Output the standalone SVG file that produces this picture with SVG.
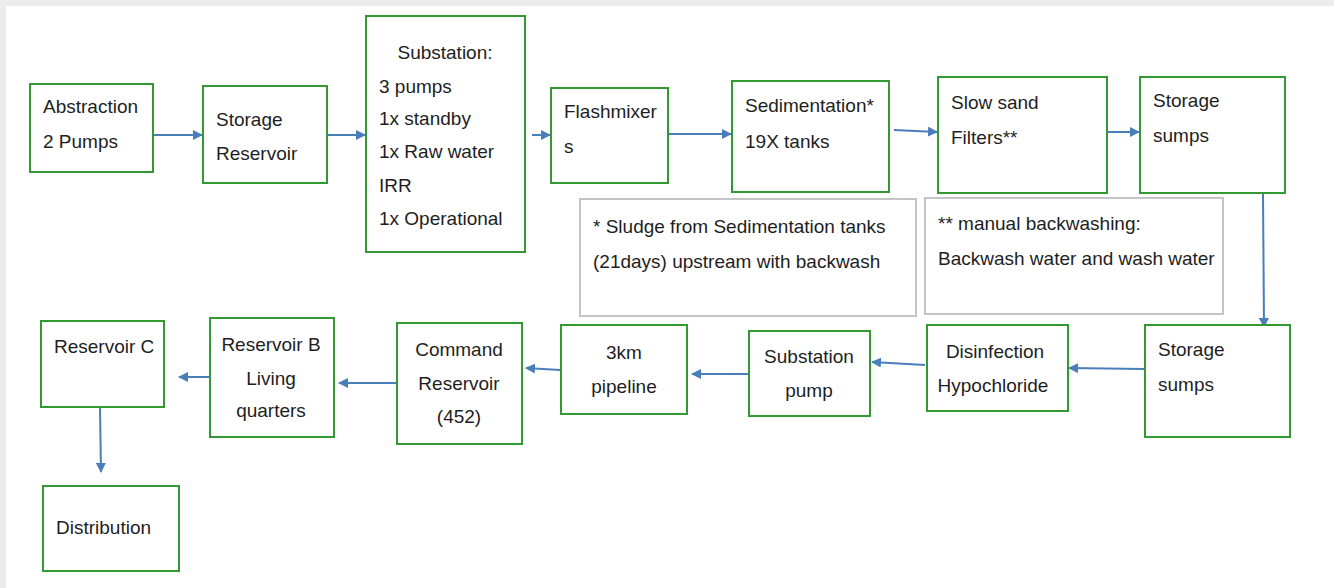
<svg xmlns="http://www.w3.org/2000/svg" width="1334" height="588" viewBox="0 0 1334 588">
  <defs>
    <style>
      .box { fill: #ffffff; stroke: #339933; stroke-width: 2; }
      .note { fill: #ffffff; stroke: #c4c4c4; stroke-width: 2; }
      .t { font-family: "Liberation Sans", Arial, sans-serif; font-size: 19px; fill: #1e1e1e; }
      .c { text-anchor: middle; }
      .flow { fill: none; stroke: #4a7ebb; stroke-width: 2; marker-end: url(#head); }
    </style>
    <marker id="head" viewBox="0 0 10 10" refX="9" refY="5" markerWidth="5" markerHeight="5" orient="auto" markerUnits="strokeWidth">
      <path d="M0,0 L10,5 L0,10 z" fill="#4a7ebb"/>
    </marker>
  </defs>

  <!-- page -->
  <rect x="0" y="0" width="1334" height="588" fill="#ececec"/>
  <rect x="6" y="6" width="1328" height="582" fill="#ffffff"/>

  <!-- connectors -->
  <g id="connectors">
    <line class="flow" x1="154" y1="135" x2="202" y2="135"/>
    <line class="flow" x1="328" y1="135" x2="365" y2="135"/>
    <line class="flow" x1="532" y1="135" x2="550" y2="135"/>
    <line class="flow" x1="669" y1="134" x2="731" y2="134"/>
    <line class="flow" x1="894" y1="130" x2="937" y2="132"/>
    <line class="flow" x1="1108" y1="132" x2="1139" y2="132"/>
    <line class="flow" x1="1263" y1="194" x2="1264" y2="327"/>
    <line class="flow" x1="1144" y1="369" x2="1069" y2="368"/>
    <line class="flow" x1="925" y1="365" x2="872" y2="362"/>
    <line class="flow" x1="748" y1="374" x2="692" y2="374"/>
    <line class="flow" x1="560" y1="370" x2="526" y2="368"/>
    <line class="flow" x1="396" y1="383" x2="339" y2="383"/>
    <line class="flow" x1="209" y1="377" x2="179" y2="377"/>
    <line class="flow" x1="100" y1="408" x2="101" y2="472"/>
  </g>

  <g id="abstraction">
    <rect class="box" x="30" y="84" width="123" height="88"/>
    <text class="t" x="43" y="113">Abstraction</text>
    <text class="t" x="43" y="148">2 Pumps</text>
  </g>

  <g id="storage-reservoir">
    <rect class="box" x="203" y="86" width="124" height="97"/>
    <text class="t" x="216" y="126">Storage</text>
    <text class="t" x="216" y="160">Reservoir</text>
  </g>

  <g id="substation">
    <rect class="box" x="366" y="16" width="159" height="236"/>
    <text class="t c" x="445" y="59">Substation:</text>
    <text class="t" x="379" y="93">3 pumps</text>
    <text class="t" x="379" y="125">1x standby</text>
    <text class="t" x="379" y="158">1x Raw water</text>
    <text class="t" x="379" y="192">IRR</text>
    <text class="t" x="379" y="225">1x Operational</text>
  </g>

  <g id="flashmixers">
    <rect class="box" x="551" y="88" width="117" height="95"/>
    <text class="t" x="564" y="118">Flashmixer</text>
    <text class="t" x="564" y="153">s</text>
  </g>

  <g id="sedimentation">
    <rect class="box" x="732" y="81" width="157" height="111"/>
    <text class="t" x="745" y="112">Sedimentation*</text>
    <text class="t" x="745" y="148">19X tanks</text>
  </g>

  <g id="slow-sand-filters">
    <rect class="box" x="938" y="77" width="169" height="116"/>
    <text class="t" x="951" y="109">Slow sand</text>
    <text class="t" x="951" y="144">Filters**</text>
  </g>

  <g id="storage-sumps-1">
    <rect class="box" x="1140" y="77" width="145" height="116"/>
    <text class="t" x="1153" y="107">Storage</text>
    <text class="t" x="1153" y="142">sumps</text>
  </g>

  <g id="note-sedimentation">
    <rect class="note" x="580" y="199" width="336" height="117"/>
    <text class="t" x="593" y="233">* Sludge from Sedimentation tanks</text>
    <text class="t" x="593" y="268">(21days) upstream with backwash</text>
  </g>

  <g id="note-filters">
    <rect class="note" x="925" y="198" width="298" height="116"/>
    <text class="t" x="938" y="230">** manual backwashing:</text>
    <text class="t" x="938" y="265">Backwash water and wash water</text>
  </g>

  <g id="storage-sumps-2">
    <rect class="box" x="1145" y="325" width="145" height="112"/>
    <text class="t" x="1158" y="356">Storage</text>
    <text class="t" x="1158" y="391">sumps</text>
  </g>

  <g id="disinfection">
    <rect class="box" x="927" y="325" width="141" height="86"/>
    <text class="t c" x="995" y="358">Disinfection</text>
    <text class="t c" x="993" y="392">Hypochloride</text>
  </g>

  <g id="substation-pump">
    <rect class="box" x="749" y="331" width="121" height="85"/>
    <text class="t c" x="809" y="363">Substation</text>
    <text class="t c" x="809" y="397">pump</text>
  </g>

  <g id="pipeline">
    <rect class="box" x="561" y="325" width="126" height="89"/>
    <text class="t c" x="624" y="359">3km</text>
    <text class="t c" x="624" y="393">pipeline</text>
  </g>

  <g id="command-reservoir">
    <rect class="box" x="397" y="323" width="125" height="121"/>
    <text class="t c" x="459" y="356">Command</text>
    <text class="t c" x="459" y="390">Reservoir</text>
    <text class="t c" x="459" y="423">(452)</text>
  </g>

  <g id="reservoir-b">
    <rect class="box" x="210" y="318" width="124" height="119"/>
    <text class="t c" x="271" y="351">Reservoir B</text>
    <text class="t c" x="271" y="385">Living</text>
    <text class="t c" x="271" y="417">quarters</text>
  </g>

  <g id="reservoir-c">
    <rect class="box" x="41" y="321" width="123" height="86"/>
    <text class="t" x="54" y="353">Reservoir C</text>
  </g>

  <g id="distribution">
    <rect class="box" x="43" y="486" width="136" height="85"/>
    <text class="t" x="56" y="534">Distribution</text>
  </g>
</svg>
